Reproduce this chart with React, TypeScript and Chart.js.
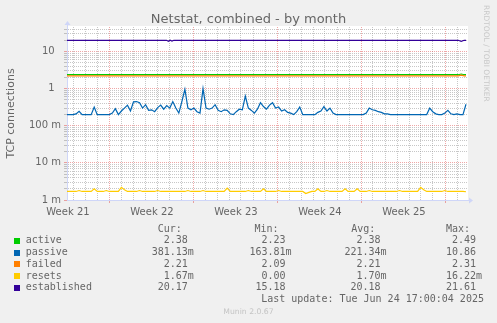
import React, { useEffect, useRef } from "react";
import { Chart, registerables } from "chart.js";

Chart.register(...registerables);

const FONT_COLOR = "#666666";
const AXIS_COLOR = "#CFD6F8";
const GRID_COLOR = "rgba(144,144,144,0.5)";
const MGRID_COLOR = "rgba(224,80,80,0.5)";
const SANS = "'DejaVu Sans', sans-serif";
const MONO = "'DejaVu Sans Mono', monospace";

// time axis: days since graph start
const STEP_DAYS = 33.25 / 132;
const X_MAX_DAYS = 400 / 12;

// passive connections, one sample per STEP_DAYS
const passive = [
  0.2, 0.2, 0.2, 0.21, 0.245, 0.2, 0.2, 0.2, 0.2, 0.32,
  0.2, 0.2, 0.2, 0.2, 0.2, 0.22, 0.29, 0.2, 0.25, 0.3,
  0.36, 0.25, 0.44, 0.45, 0.42, 0.3, 0.37, 0.26, 0.27, 0.24,
  0.31, 0.36, 0.28, 0.35, 0.3, 0.45, 0.3, 0.22, 0.45, 0.97,
  0.3, 0.27, 0.3, 0.24, 0.22, 1.0, 0.3, 0.28, 0.3, 0.37,
  0.26, 0.24, 0.27, 0.26, 0.21, 0.2, 0.24, 0.28, 0.27, 0.63,
  0.3, 0.26, 0.22, 0.28, 0.42, 0.33, 0.28, 0.36, 0.42, 0.3,
  0.32, 0.25, 0.27, 0.23, 0.22, 0.2, 0.24, 0.32, 0.2, 0.2,
  0.2, 0.2, 0.2, 0.23, 0.25, 0.33, 0.25, 0.3, 0.22, 0.2,
  0.2, 0.2, 0.2, 0.2, 0.2, 0.2, 0.2, 0.2, 0.2, 0.22,
  0.3, 0.27, 0.26, 0.24, 0.23, 0.21, 0.21, 0.2, 0.2, 0.2,
  0.2, 0.2, 0.2, 0.2, 0.2, 0.2, 0.2, 0.2, 0.2, 0.2,
  0.3, 0.24, 0.21, 0.2, 0.2, 0.22, 0.26, 0.21, 0.2, 0.21,
  0.2, 0.2, 0.38,
];

// resets, in milli-units, one sample per STEP_DAYS
const resetsMilli = [
  1.7, 1.7, 1.7, 1.7, 1.8, 1.7, 1.7, 1.7, 1.7, 2.0,
  1.7, 1.7, 1.7, 1.8, 1.7, 1.7, 1.7, 1.7, 2.2, 1.9,
  1.7, 1.7, 1.7, 1.7, 1.8, 1.7, 1.7, 1.7, 1.7, 1.7,
  1.8, 1.7, 1.7, 1.7, 1.7, 1.7, 1.7, 1.7, 1.7, 1.7,
  1.8, 1.7, 1.7, 1.7, 1.7, 1.8, 1.7, 1.7, 1.7, 1.7,
  1.7, 1.7, 1.7, 2.1, 1.7, 1.7, 1.7, 1.7, 1.7, 1.7,
  1.8, 1.7, 1.7, 1.7, 1.7, 2.0, 1.7, 1.7, 1.7, 1.7,
  1.8, 1.7, 1.7, 1.7, 1.7, 1.7, 1.7, 1.7, 1.7, 1.5,
  1.6, 1.7, 1.7, 2.0, 1.7, 1.7, 1.8, 1.7, 1.7, 1.7,
  1.7, 1.7, 2.0, 1.7, 1.7, 1.7, 2.0, 1.7, 1.7, 1.7,
  1.8, 1.7, 1.7, 1.7, 1.7, 1.7, 1.7, 1.7, 1.7, 1.7,
  1.8, 1.7, 1.7, 1.7, 1.7, 1.7, 1.7, 2.2, 1.9, 1.7,
  1.7, 1.7, 1.7, 1.7, 1.7, 1.8, 1.7, 1.7, 1.7, 1.7,
  1.7, 1.7, 1.67,
];

// nearly flat series: breakpoints (days) and values
const flatTimes = [0, 32.6, 32.85, 33.1, 33.25];
const activeVals = [2.38, 2.38, 2.49, 2.38, 2.38];
const failedVals = [2.21, 2.21, 2.31, 2.21, 2.21];
const establishedTimes = [0, 8.3, 8.45, 8.6, 8.75, 8.9, 32.6, 32.85, 33.1, 33.25];
const establishedVals = [20.17, 20.17, 19.0, 20.17, 19.2, 20.17, 20.17, 19.0, 20.17, 20.17];

// axes
const weekLabels = ["Week 21", "Week 22", "Week 23", "Week 24", "Week 25"];
const weekLabelDays = [0.08, 7.08, 14.08, 21.08, 28.08];
const weekStartDays = [3.5, 10.5, 17.5, 24.5, 31.5];
const firstMidnightDay = 0.5;
const yTickValues = [0.001, 0.01, 0.1, 1, 10];
const yTickLabels = ["1 m", "10 m", "100 m", "1  ", "10  "];
const Y_MIN = 0.001;
const Y_MAX = 46;

// legend
const seriesNames = ["active", "passive", "failed", "resets", "established"];
const seriesColors = ["#00CC00", "#0066B3", "#FF8000", "#FFCC00", "#330099"];
const curVals = ["2.38", "381.13m", "2.21", "1.67m", "20.17"];
const minVals = ["2.23", "163.81m", "2.09", "0.00", "15.18"];
const avgVals = ["2.38", "221.34m", "2.21", "1.70m", "20.18"];
const maxVals = ["2.49", "10.86", "2.31", "16.22m", "21.61"];

const near = (a: number, b: number) => Math.abs(a - b) < 1e-6;
const isDecade = (v: number) => {
  const l = Math.log10(v);
  return Math.abs(l - Math.round(l)) < 1e-6;
};
const fmt = (v: string) => (v.endsWith("m") ? v : v + " ").padStart(7);

export default function App() {
  const ref = useRef<HTMLCanvasElement>(null);

  useEffect(() => {
    if (!ref.current) return;

    const dayLines: number[] = [];
    for (let d = firstMidnightDay; d < X_MAX_DAYS; d += 1) {
      if (!weekStartDays.some((w) => near(w, d))) dayLines.push(d);
    }
    const xTicks = [...dayLines, ...weekStartDays, ...weekLabelDays].sort((a, b) => a - b);

    const yTicks: number[] = [];
    for (let e = -3; e <= 1; e++) {
      for (let m = 1; m <= 9; m++) {
        const v = Number((m * Math.pow(10, e)).toPrecision(6));
        if (v >= Y_MIN && v <= Y_MAX) yTicks.push(v);
      }
    }

    const xColor = (ctx: any) => {
      const v = ctx.tick ? ctx.tick.value : 0;
      if (weekLabelDays.some((w) => near(w, v))) return "rgba(0,0,0,0)";
      if (weekStartDays.some((w) => near(w, v))) return MGRID_COLOR;
      return GRID_COLOR;
    };
    const xTickColor = (ctx: any) => {
      const v = ctx.tick ? ctx.tick.value : 0;
      if (weekStartDays.some((w) => near(w, v))) return MGRID_COLOR;
      return "rgba(0,0,0,0)";
    };
    const yColor = (ctx: any) => {
      const v = ctx.tick ? ctx.tick.value : 1;
      return isDecade(v) ? MGRID_COLOR : GRID_COLOR;
    };

    const series = (ys: number[], scale = 1) =>
      ys.map((y, i) => ({ x: i * STEP_DAYS, y: y * scale }));
    const pairs = (xs: number[], ys: number[]) => xs.map((x, i) => ({ x, y: ys[i] }));

    const lineDs = (label: string, color: string, data: any[]) => ({
      label,
      data,
      borderColor: color,
      backgroundColor: color,
      borderWidth: 1.2,
      pointRadius: 0,
      tension: 0,
      fill: false,
    });

    const bgPlugin = {
      id: "muninBg",
      beforeDraw(chart: any) {
        const { ctx, chartArea } = chart;
        ctx.save();
        ctx.fillStyle = "#F0F0F0";
        ctx.fillRect(0, 0, chart.width, chart.height);
        ctx.fillStyle = "#FFFFFF";
        ctx.fillRect(chartArea.left, chartArea.top - 1, chartArea.right - chartArea.left + 1, chartArea.bottom - chartArea.top + 1);
        ctx.restore();
      },
    };
    const arrowPlugin = {
      id: "muninArrows",
      afterDraw(chart: any) {
        const { ctx, chartArea } = chart;
        const lx = chartArea.left + 0.5;
        const by = chartArea.bottom + 0.5;
        ctx.save();
        ctx.strokeStyle = AXIS_COLOR;
        ctx.fillStyle = AXIS_COLOR;
        ctx.lineWidth = 1;
        ctx.beginPath();
        ctx.moveTo(lx, chartArea.top);
        ctx.lineTo(lx, chartArea.top - 2);
        ctx.moveTo(chartArea.right, by);
        ctx.lineTo(chartArea.right + 2, by);
        ctx.stroke();
        ctx.beginPath();
        ctx.moveTo(lx - 3, chartArea.top - 2);
        ctx.lineTo(lx + 3, chartArea.top - 2);
        ctx.lineTo(lx, chartArea.top - 6);
        ctx.closePath();
        ctx.fill();
        ctx.beginPath();
        ctx.moveTo(chartArea.right + 2, by - 3);
        ctx.lineTo(chartArea.right + 2, by + 3);
        ctx.lineTo(chartArea.right + 6, by);
        ctx.closePath();
        ctx.fill();
        ctx.restore();
      },
    };

    const chart = new Chart(ref.current, {
      type: "line",
      data: {
        datasets: [
          lineDs("established", seriesColors[4], pairs(establishedTimes, establishedVals)),
          lineDs("resets", seriesColors[3], series(resetsMilli, 0.001)),
          lineDs("failed", seriesColors[2], pairs(flatTimes, failedVals)),
          lineDs("passive", seriesColors[1], series(passive)),
          lineDs("active", seriesColors[0], pairs(flatTimes, activeVals)),
        ] as any,
      },
      options: {
        animation: false,
        responsive: false,
        maintainAspectRatio: false,
        layout: { padding: 0 },
        plugins: {
          legend: { display: false },
          tooltip: { enabled: false },
          title: {
            display: true,
            text: "Netstat, combined - by month",
            color: FONT_COLOR,
            font: { family: SANS, size: 13, weight: "normal", lineHeight: 1 },
            padding: { top: 13, bottom: 1 },
          },
        },
        scales: {
          x: {
            type: "linear",
            min: 0,
            max: X_MAX_DAYS,
            afterBuildTicks: (s: any) => {
              s.ticks = xTicks.map((v) => ({ value: v }));
            },
            afterFit: (s: any) => {
              s.height = 123;
            },
            ticks: {
              autoSkip: false,
              maxRotation: 0,
              minRotation: 0,
              padding: 3.5,
              color: FONT_COLOR,
              font: { family: SANS, size: 10 },
              callback: (v: any) => {
                const i = weekLabelDays.findIndex((w) => near(w, Number(v)));
                return i >= 0 ? weekLabels[i] : "";
              },
            },
            grid: { color: xColor, tickColor: xTickColor, tickLength: 3, lineWidth: 1 },
            border: { color: AXIS_COLOR, width: 1, dash: [1, 1] },
          },
          y: {
            type: "logarithmic",
            position: "left",
            min: Y_MIN,
            max: Y_MAX,
            afterBuildTicks: (s: any) => {
              s.ticks = yTicks.map((v) => ({ value: v, major: isDecade(v) }));
            },
            afterFit: (s: any) => {
              s.width = 67;
            },
            ticks: {
              autoSkip: false,
              padding: 3,
              color: FONT_COLOR,
              font: { family: SANS, size: 10 },
              callback: (v: any) => {
                const n = Number(v);
                if (!isDecade(n)) return "";
                const i = yTickValues.findIndex((t) => Math.abs(Math.log10(t) - Math.log10(n)) < 1e-6);
                return i >= 0 ? yTickLabels[i] : "";
              },
            },
            grid: { color: yColor, tickColor: yColor, tickLength: 3, lineWidth: 1 },
            border: { color: AXIS_COLOR, width: 1, dash: [1, 1] },
            title: {
              display: true,
              text: "TCP connections",
              color: FONT_COLOR,
              font: { family: SANS, size: 11 },
              padding: { top: 4.4, bottom: 0 },
            },
          },
          yR: {
            type: "linear",
            position: "right",
            display: true,
            grid: { display: false, drawTicks: false },
            border: { display: false },
            ticks: { display: false },
            afterFit: (s: any) => {
              s.width = 30;
            },
          },
        },
      } as any,
      plugins: [bgPlugin, arrowPlugin],
    });

    return () => chart.destroy();
  }, []);

  const rowTop = (k: number) => 222.6 + 11.75 * k;
  const mono: React.CSSProperties = {
    position: "absolute",
    fontFamily: MONO,
    fontSize: 10,
    lineHeight: "12px",
    color: FONT_COLOR,
    whiteSpace: "pre",
  };
  const cols = [
    { left: 151.7, vals: curVals, head: "Cur:", headLeft: 157.7 },
    { left: 249.4, vals: minVals, head: "Min:", headLeft: 254.4 },
    { left: 344.4, vals: avgVals, head: "Avg:", headLeft: 351.3 },
    { left: 440, vals: maxVals, head: "Max:", headLeft: 446 },
  ];

  return (
    <div
      style={{
        position: "fixed",
        left: 0,
        top: 0,
        width: 497,
        height: 323,
        background: "#F0F0F0",
        overflow: "hidden",
      }}
    >
      <canvas
        ref={ref}
        width={497}
        height={323}
        style={{ position: "absolute", left: 0, top: 0, width: 497, height: 323 }}
      />
      {cols.map((c) => (
        <div key={c.head} style={{ ...mono, left: c.headLeft, top: rowTop(0) }}>
          {c.head}
        </div>
      ))}
      {seriesNames.map((name, i) => (
        <React.Fragment key={name}>
          <div
            style={{
              position: "absolute",
              left: 14,
              top: rowTop(i + 1) + 3.5,
              width: 6,
              height: 6,
              background: seriesColors[i],
            }}
          />
          <div style={{ ...mono, left: 25.7, top: rowTop(i + 1) }}>{name}</div>
          {cols.map((c) => (
            <div key={c.head} style={{ ...mono, left: c.left, top: rowTop(i + 1) }}>
              {fmt(c.vals[i])}
            </div>
          ))}
        </React.Fragment>
      ))}
      <div style={{ ...mono, left: 261.2, top: rowTop(6) }}>
        Last update: Tue Jun 24 17:00:04 2025
      </div>
      <div
        style={{
          position: "absolute",
          left: 0,
          width: 497,
          top: 307.3,
          textAlign: "center",
          fontFamily: SANS,
          fontSize: 7.7,
          lineHeight: "10px",
          color: "#C4C4C4",
        }}
      >
        Munin 2.0.67
      </div>
      <div
        style={{
          position: "absolute",
          left: 482.4,
          top: 4.5,
          writingMode: "vertical-rl",
          fontFamily: SANS,
          fontSize: 7.5,
          lineHeight: "9px",
          color: "#C8C8C8",
          whiteSpace: "nowrap",
        }}
      >
        RRDTOOL / TOBI OETIKER
      </div>
    </div>
  );
}
